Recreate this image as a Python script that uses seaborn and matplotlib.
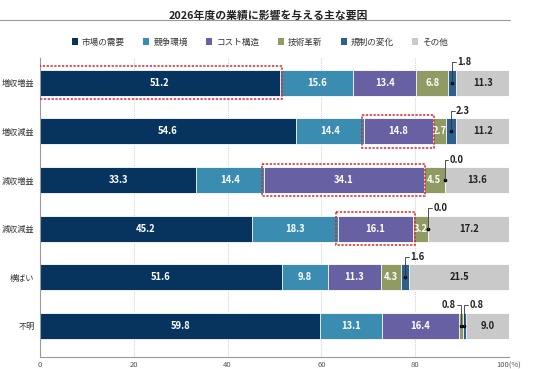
import seaborn as sns
import matplotlib.pyplot as plt
import pandas as pd
import numpy as np
from matplotlib.patches import Rectangle, Patch

groups = ['増収増益', '増収減益', '減収増益', '減収減益', '横ばい', '不明']
factors = ['市場の需要', '競争環境', 'コスト構造', '技術革新', '規制の変化', 'その他']
market = [51.2, 54.6, 33.3, 45.2, 51.6, 59.8]
compete = [15.6, 14.4, 14.4, 18.3, 9.8, 13.1]
cost = [13.4, 14.8, 34.1, 16.1, 11.3, 16.4]
tech = [6.8, 2.7, 4.5, 3.2, 4.3, 0.8]
regul = [1.8, 2.3, 0.0, 0.0, 1.6, 0.8]
other = [11.3, 11.2, 13.6, 17.2, 21.5, 9.0]
colors = ['#06345f', '#3a8db0', '#6760a3', '#8f9b63', '#2d5f8f', '#c9c9c9']
highlight = [(0, '市場の需要'), (1, 'コスト構造'), (2, 'コスト構造'), (3, 'コスト構造')]

sns.set_style('white')
plt.rcParams['font.family'] = ['Noto Sans CJK JP', 'DejaVu Sans']

df = pd.DataFrame({'group': groups, '市場の需要': market, '競争環境': compete,
                   'コスト構造': cost, '技術革新': tech, '規制の変化': regul, 'その他': other})
vals = df[factors].values
cum = vals.cumsum(axis=1)
left = cum - vals

fig = plt.figure(figsize=(5.36, 3.69), dpi=100)
ax = fig.add_axes([40/536, 12/369, 469/536, 299/369])

bar_h = 0.535
# stacked bars: draw cumulative totals from the longest down
for i in range(len(factors) - 1, -1, -1):
    sns.barplot(x=cum[:, i], y=groups, orient='h', color=colors[i], saturation=1,
                width=bar_h, errorbar=None, edgecolor='white', linewidth=0.6, ax=ax, zorder=2)

for r in range(len(groups)):
    for i, f in enumerate(factors):
        v = vals[r, i]
        xc = left[r, i] + v / 2
        if v >= 2.5:
            tc = '#222222' if f == 'その他' else 'white'
            ax.text(xc, r, f'{v:.1f}', ha='center', va='center', color=tc,
                    fontsize=6.8, fontweight='bold', zorder=5)

# small values with leader lines
for r in range(len(groups)):
    smalls = [i for i in range(len(factors)) if vals[r, i] < 2.5]
    for k, i in enumerate(smalls):
        v = vals[r, i]
        xc = left[r, i] + v / 2
        yt = r - 0.42
        to_left = len(smalls) > 1 and k == 0
        dx = -0.8 if to_left else 0.8
        ax.plot([xc], [r], marker='o', ms=1.6, color='black', zorder=6)
        ax.plot([xc, xc, xc + dx], [r, yt, yt], color='#333333', lw=0.6, zorder=6)
        ax.text(xc + dx * 1.3, yt, f'{v:.1f}', ha='right' if to_left else 'left',
                va='center', fontsize=6.8, fontweight='bold', color='#222222', zorder=6)

for r, f in highlight:
    i = factors.index(f)
    ax.add_patch(Rectangle((left[r, i] - 0.3, r - bar_h / 2 - 0.07), vals[r, i] + 0.6, bar_h + 0.14,
                           fill=False, edgecolor='#d8262c', lw=1.1, ls=(0, (1.5, 1)), zorder=7))

ax.set_xlim(0, 100)
ax.set_ylim(5.64, -0.51)
ax.set_xticks([0, 20, 40, 60, 80, 100])
ax.set_xticklabels(['0', '20', '40', '60', '80', '100(%)'])
ax.tick_params(axis='x', length=0, pad=3, labelsize=5.5, labelcolor='#555555')
ax.tick_params(axis='y', length=0, pad=4, labelsize=5.9, labelcolor='#333333')
ax.set_xlabel('')
ax.set_ylabel('')
ax.xaxis.grid(True, color='#bbbbbb', ls=(0, (1, 1.5)), lw=0.6, zorder=0)
ax.set_axisbelow(True)
for s in ['top', 'right']:
    ax.spines[s].set_visible(False)
for s in ['left', 'bottom']:
    ax.spines[s].set_color('#999999')
    ax.spines[s].set_linewidth(0.8)

fig.text(0.5, 1 - 15/369, '2026年度の業績に影響を与える主な要因', ha='center', va='center',
         fontsize=7.8, fontweight='bold', color='#222222')
fig.add_artist(plt.Line2D([0, 510/536], [1 - 19.5/369, 1 - 19.5/369], color='#999999', lw=0.8))

handles = [Patch(facecolor=c, edgecolor='none') for c in colors]
fig.legend(handles, factors, loc='center', bbox_to_anchor=(260/536, 1 - 42/369), ncol=6,
           frameon=False, fontsize=6.2, handlelength=0.7, handleheight=0.7,
           handletextpad=0.5, columnspacing=2.1, labelcolor='#333333')

fig.savefig('out.png', dpi=100)
